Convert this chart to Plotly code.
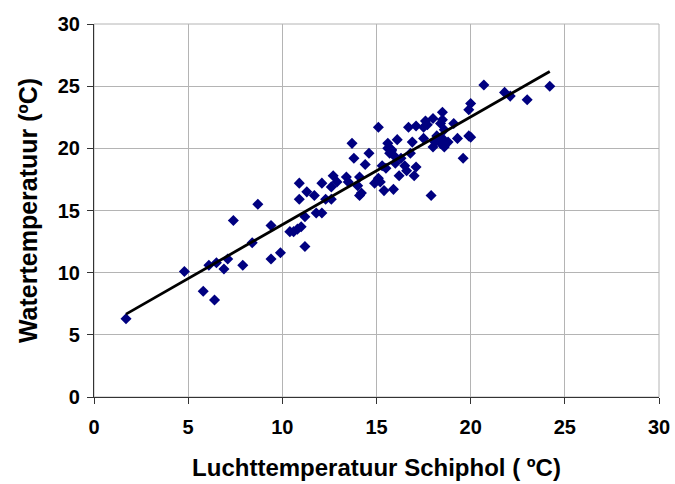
import numpy as np
import plotly.graph_objects as go

# Air temperature Schiphol (x) vs water temperature (y), in degrees C
air_temp = [1.7, 4.8, 5.8, 6.1, 6.4, 6.5, 6.9, 7.1, 7.4, 7.9, 8.4, 8.7, 9.4, 9.4, 9.9,
            10.4, 10.6, 10.8, 11.0, 11.2, 11.2, 10.9, 10.9, 11.3, 11.7, 11.8, 12.1, 12.1,
            12.3, 12.6, 12.6, 12.7, 12.9, 13.4, 13.5, 14.1, 14.0, 14.1, 13.7, 13.8, 14.6,
            14.4, 15.1, 14.9, 15.1, 15.4, 15.9, 15.3, 15.5, 15.6, 15.7, 15.8, 16.1, 16.0,
            16.0, 16.3, 16.2, 16.5, 16.6, 16.8, 16.9, 17.1, 17.0, 16.7, 17.1, 17.5, 17.7,
            17.5, 17.9, 18.0, 18.1, 18.2, 18.4, 18.6, 18.5, 18.4, 18.8, 18.5, 18.5, 18.6,
            19.3, 19.6, 19.9, 19.1, 20.0, 19.9, 20.0, 20.7, 21.8, 22.1, 23.0, 24.2, 15.2,
            17.6, 18.0, 15.6, 15.8, 14.2]
water_temp = [6.3, 10.1, 8.5, 10.6, 7.8, 10.8, 10.3, 11.1, 14.2, 10.6, 12.4, 15.5, 11.1, 13.8, 11.6,
              13.3, 13.3, 13.5, 13.7, 12.1, 14.5, 15.9, 17.2, 16.5, 16.2, 14.8, 14.8, 17.2,
              15.9, 15.9, 16.9, 17.8, 17.3, 17.7, 17.3, 17.7, 17.0, 16.2, 20.4, 19.2, 19.6,
              18.7, 21.7, 17.2, 17.6, 16.6, 16.7, 18.6, 18.4, 20.4, 19.6, 19.9, 20.7, 18.8,
              19.3, 19.2, 17.8, 18.6, 18.2, 19.6, 20.5, 18.5, 17.8, 21.7, 21.8, 21.7, 21.9,
              20.8, 16.2, 20.1, 20.5, 21.0, 22.0, 20.1, 20.8, 20.4, 20.5, 22.9, 22.3, 21.5,
              20.8, 19.2, 21.0, 22.0, 23.6, 23.1, 20.9, 25.1, 24.5, 24.2, 23.9, 25.0, 17.3,
              22.2, 22.4, 20.0, 19.8, 16.4]

x_ticks = [0, 5, 10, 15, 20, 25, 30]
y_ticks = [0, 5, 10, 15, 20, 25, 30]

x_arr = np.array(air_temp)
y_arr = np.array(water_temp)
slope, intercept = np.polyfit(x_arr, y_arr, 1)
fit_x = np.array([x_arr.min(), x_arr.max()])
fit_y = slope * fit_x + intercept

font_family = "Liberation Sans, Arial, sans-serif"

fig = go.Figure()
fig.add_trace(go.Scatter(
    x=air_temp, y=water_temp, mode="markers",
    marker=dict(symbol="diamond", size=8.5, color="#000080", line=dict(width=0)),
    showlegend=False, cliponaxis=False,
))
fig.add_trace(go.Scatter(
    x=fit_x, y=fit_y, mode="lines",
    line=dict(color="black", width=2.8),
    showlegend=False,
))

axis_common = dict(
    showgrid=True, gridcolor="#b4b4b4", gridwidth=1,
    showline=True, linecolor="#333333", linewidth=1.2,
    ticks="outside", ticklen=6, tickcolor="#333333", tickwidth=1,
    zeroline=False, automargin=False,
    tickfont=dict(family=font_family, size=20, color="black", weight="bold"),
)

fig.update_layout(
    width=675, height=484,
    margin=dict(l=94, r=16, t=24, b=87),
    paper_bgcolor="white", plot_bgcolor="white",
    font=dict(family=font_family, color="black"),
    xaxis=dict(range=[0, 30], tickvals=x_ticks, **axis_common,
               ticklabelstandoff=6,
               title=dict(text="Luchttemperatuur Schiphol ( ºC)",
                          font=dict(family=font_family, size=24, color="black", weight="bold"),
                          standoff=22),
               mirror=False),
    yaxis=dict(range=[0, 30], tickvals=y_ticks, **axis_common,
               ticklabelstandoff=3,
               title=dict(text="Watertemperatuur (ºC)",
                          font=dict(family=font_family, size=25, color="black", weight="bold"),
                          standoff=12)),
)
fig.add_shape(type="rect", xref="paper", yref="paper", x0=0, y0=0, x1=1, y1=1,
              line=dict(color="#b4b4b4", width=1), layer="below")

fig.write_html("out.html")
